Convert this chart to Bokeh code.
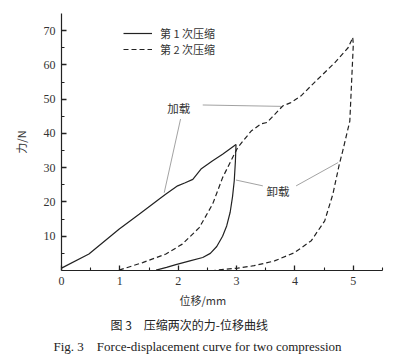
from bokeh.plotting import figure
from bokeh.models import Legend, LegendItem, Title, FixedTicker
from bokeh.core.properties import value
from bokeh.embed import file_html
from bokeh.resources import INLINE

# ---- data ----
x1_load = [0.0, 0.47, 0.99, 1.33, 1.67, 1.79, 1.99, 2.12, 2.25, 2.39, 2.59, 2.76, 2.99]
y1_load = [0.7, 4.8, 12.1, 16.4, 20.8, 22.3, 24.7, 25.6, 26.6, 29.6, 32.0, 33.9, 36.8]
x1_unload = [2.99, 2.98, 2.96, 2.93, 2.89, 2.83, 2.76, 2.66, 2.55, 2.42, 2.2, 1.96, 1.8, 1.62]
y1_unload = [36.8, 32.0, 26.2, 21.5, 17.0, 13.0, 10.0, 7.0, 5.0, 3.8, 2.8, 1.7, 0.9, 0.1]

x2_load = [0.985, 1.39, 1.79, 2.07, 2.36, 2.59, 2.76, 2.93, 3.02, 3.25, 3.42, 3.52,
           3.6, 3.79, 3.93, 4.1, 4.39, 4.68, 4.91, 4.99]
y2_load = [0.1, 2.3, 4.8, 7.7, 12.5, 19.4, 27.1, 32.9, 35.9, 40.7, 42.8, 43.2,
           44.6, 48.0, 49.0, 50.9, 55.8, 60.6, 65.0, 67.9]
x2_unload = [4.99, 5.0, 4.94, 4.82, 4.76, 4.65, 4.51, 4.28, 3.99, 3.65, 3.3, 3.02, 2.6]
y2_unload = [67.9, 66.0, 43.6, 35.0, 31.0, 22.3, 14.5, 8.7, 5.2, 2.8, 1.4, 0.7, 0.0]

x_ticks = [0, 1, 2, 3, 4, 5]
x_minor = [0.5, 1.5, 2.5, 3.5, 4.5, 5.5]
y_ticks = [10, 20, 30, 40, 50, 60, 70]
y_minor = [5, 15, 25, 35, 45, 55, 65]

series_names = ["第 1 次压缩", "第 2 次压缩"]
note_texts = ["加载", "卸载"]
note_x = [2.01, 3.71]
note_y = [47.4, 23.2]
lead_x0 = [2.04, 2.42, 3.45, 4.02]
lead_y0 = [44.2, 48.3, 24.7, 24.7]
lead_x1 = [1.76, 3.76, 2.99, 4.74]
lead_y1 = [22.7, 47.9, 26.4, 31.5]

CJK = "Noto Sans CJK SC"
SERIF = "Liberation Serif"
INK = "#222222"

p = figure(width=401, height=362, x_range=(0, 5.5), y_range=(0, 75),
           output_backend="svg", toolbar_location=None,
           min_border_left=61, min_border_right=19, min_border_top=13,
           min_border_bottom=92)
p.title.visible = False
p.outline_line_color = None
p.grid.visible = False
p.background_fill_color = "white"
p.border_fill_color = "white"

for ax in (p.xaxis[0], p.yaxis[0]):
    ax.axis_line_color = INK
    ax.axis_line_width = 1.2
    ax.major_tick_line_color = INK
    ax.major_tick_line_width = 1.3
    ax.minor_tick_line_color = INK
    ax.minor_tick_line_width = 1.1
    ax.major_tick_in = 5
    ax.major_tick_out = 0
    ax.minor_tick_in = 3
    ax.minor_tick_out = 0
    ax.major_label_text_font = SERIF
    ax.major_label_text_font_size = "12px"
    ax.major_label_text_color = "#333333"
    ax.major_label_standoff = 6

p.xaxis.ticker = FixedTicker(ticks=x_ticks, minor_ticks=x_minor)
p.yaxis.ticker = FixedTicker(ticks=y_ticks, minor_ticks=y_minor)
p.yaxis.axis_label = "力/N"
p.yaxis.axis_label_text_font = CJK
p.yaxis.axis_label_text_font_size = "11px"
p.yaxis.axis_label_text_font_style = "normal"
p.yaxis.axis_label_text_color = "#333333"
p.yaxis.axis_label_standoff = 12

r1 = p.line(x1_load, y1_load, line_color=INK, line_width=1.2)
p.line(x1_unload, y1_unload, line_color=INK, line_width=1.2)
r2 = p.line(x2_load, y2_load, line_color=INK, line_width=1.2, line_dash="5 3")
p.line(x2_unload, y2_unload, line_color=INK, line_width=1.2, line_dash="5 3")

p.segment(lead_x0, lead_y0, lead_x1, lead_y1, line_color="#8a8a8a", line_width=0.8)
p.text(note_x, note_y, text=note_texts, text_font=value(CJK), text_font_size="11.5px",
       text_align="center", text_baseline="middle", text_color="#333333")

legend_style = dict(padding=0, margin=0, spacing=0, glyph_width=29, glyph_height=16,
                    label_height=16, label_standoff=8, label_text_font=CJK,
                    label_text_font_size="11px", label_text_color="#333333",
                    background_fill_alpha=0, border_line_color=None)
leg1 = Legend(items=[LegendItem(label=series_names[0], renderers=[r1])],
              location=(62, 229), **legend_style)
leg2 = Legend(items=[LegendItem(label=series_names[1], renderers=[r2])],
              location=(62, 213.5), **legend_style)
p.add_layout(leg1)
p.add_layout(leg2)

t_x = Title(text="位移/mm", align="left", offset=118, text_font=CJK,
            text_font_size="11px", text_font_style="normal", text_color="#333333",
            standoff=4)
t_c1 = Title(text="图 3\u2003压缩两次的力-位移曲线", align="left", offset=49, text_font=CJK,
             text_font_size="12px", text_font_style="normal", text_color="#222222",
             standoff=8)
t_c2 = Title(text="Fig. 3\u00a0\u00a0\u00a0\u00a0Force-displacement curve for two compression",
             align="left", offset=-8, text_font=SERIF, text_font_size="13px",
             text_font_style="normal", text_color="#222222", standoff=1)
p.add_layout(t_x, "below")
p.add_layout(t_c1, "below")
p.add_layout(t_c2, "below")

open("out.html", "w").write(file_html(p, INLINE))
